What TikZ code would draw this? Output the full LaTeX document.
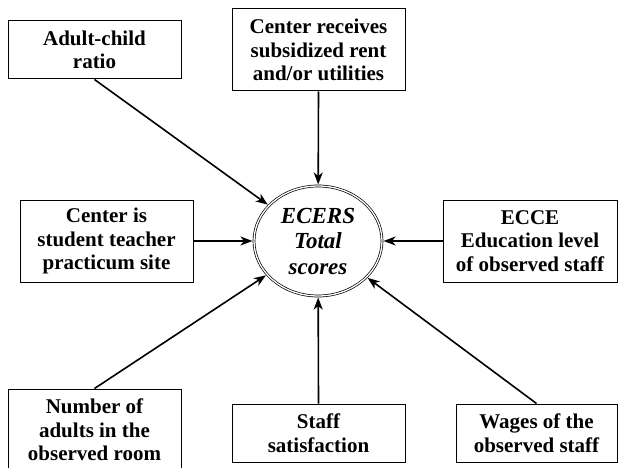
\documentclass[tikz,border=0pt]{standalone}
\usepackage{fontspec}
\setmainfont{Liberation Serif}
\usetikzlibrary{shapes.geometric,arrows.meta}
\begin{document}
\begin{tikzpicture}[x=1pt,y=-1pt,
  box/.style={draw, line width=1pt, rectangle, inner sep=0pt, align=center,
    font=\fontsize{21}{23.5}\selectfont\bfseries},
  arr/.style={line width=1.6pt, shorten >=1.2pt, -{Stealth[length=12pt,width=9pt,inset=3.5pt]}}]
\useasboundingbox (0,0) rectangle (626,468);
\node[ellipse, draw, double, double distance=1.3pt, line width=0.7pt,
  minimum width=128, minimum height=110, inner sep=0pt, align=center,
  font=\fontsize{23}{25.5}\selectfont\bfseries\itshape] (e) at (318,241) {ECERS\\Total\\scores};
\node[box, minimum width=173, minimum height=58] (ac) at (94.5,50) {Adult-child\\ratio};
\node[box, minimum width=173, minimum height=82] (cr) at (318.5,50) {Center receives\\subsidized rent\\and/or utilities};
\node[box, minimum width=173, minimum height=82] (st) at (106.5,241) {Center is\\student teacher\\practicum site};
\node[box, minimum width=174, minimum height=82] (ec) at (530,241) {ECCE\\Education level\\of observed staff};
\node[box, minimum width=173, minimum height=82] (na) at (94.5,430) {Number of\\adults in the\\observed room};
\node[box, minimum width=173, minimum height=58] (ss) at (318.5,433) {Staff\\satisfaction};
\node[box, minimum width=161, minimum height=58] (wg) at (536.5,433) {Wages of the\\observed staff};
\draw[arr] (ac.south) -- (e);
\draw[arr] (cr.south) -- (e);
\draw[arr] (st.east) -- (e);
\draw[arr] (ec.west) -- (e);
\draw[arr] (na.north) -- (e);
\draw[arr] (ss.north) -- (e);
\draw[arr] (wg.north) -- (e);
\end{tikzpicture}
\end{document}
